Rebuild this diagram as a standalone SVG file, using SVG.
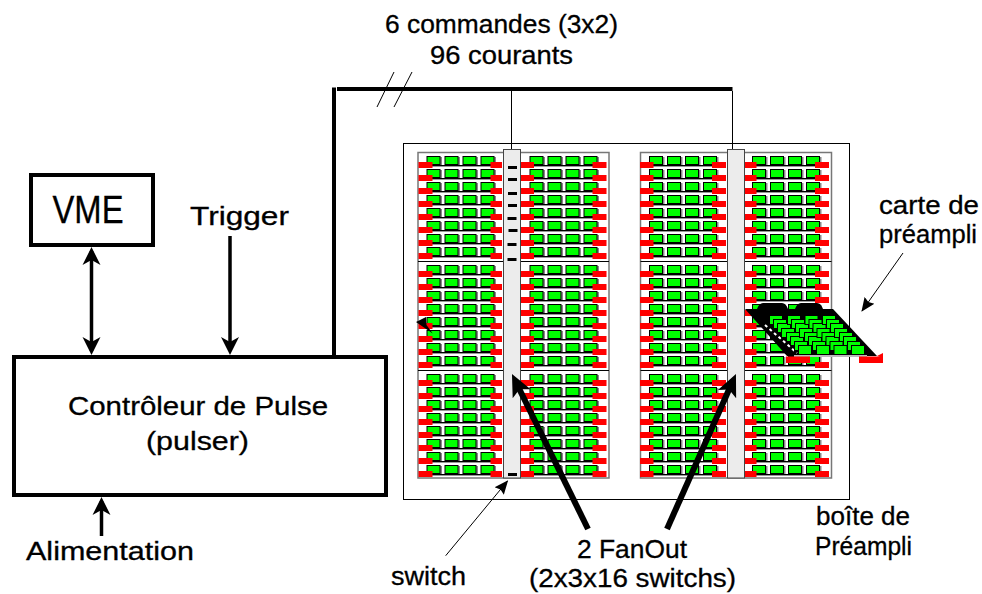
<svg xmlns="http://www.w3.org/2000/svg" width="982" height="594" viewBox="0 0 982 594">
<style>
text{font-family:"Liberation Sans","DejaVu Sans",sans-serif;font-size:25px;fill:#000;stroke:#000;stroke-width:.3}
.sh{fill:#8a8a8a}
.c{fill:#00ff00;stroke:#000;stroke-width:1}
.r{fill:#ff0000}
.b1{stroke:#000;stroke-width:1;fill:none}
.b2{stroke:#999;stroke-width:1.5;fill:none}
.sw{fill:#000}
.fan{fill:#ececec;stroke:#444;stroke-width:1}
.pan{fill:#fff;stroke:#777;stroke-width:1.5}
.box{fill:#fff;stroke:#000;stroke-width:4}
.thick{stroke:#000;stroke-width:4;fill:none}
.thin{stroke:#000;stroke-width:1;fill:none}
.arr{stroke:#000;stroke-width:3.5;fill:none}
.fat{stroke:#000;stroke-width:6;fill:none}
</style>
<defs>
<marker id="h" markerUnits="userSpaceOnUse" viewBox="0 0 20 20" markerWidth="20" markerHeight="20" refX="14" refY="10" orient="auto-start-reverse"><path d="M0,1L18,10L0,19L5,10Z" fill="#000"/></marker>
<marker id="hf" markerUnits="userSpaceOnUse" viewBox="0 0 26 26" markerWidth="26" markerHeight="26" refX="14" refY="13" orient="auto"><path d="M0,3L22,13L0,23L5,13Z" fill="#000"/></marker>
<marker id="ht" markerUnits="userSpaceOnUse" viewBox="0 0 16 14" markerWidth="16" markerHeight="14" refX="13" refY="7" orient="auto"><path d="M0,1L14,7L0,13L2,7Z" fill="#000"/></marker>
<g id="cards">
<rect class="sh" x="1" y="1" width="14.5" height="9"/><rect class="sh" x="19" y="1" width="14.5" height="9"/><rect class="sh" x="37" y="1" width="14.5" height="9"/><rect class="sh" x="55" y="1" width="14.5" height="9"/>
<rect class="c" x="0.5" y="0.5" width="13" height="8"/><rect class="c" x="18.5" y="0.5" width="13" height="8"/><rect class="c" x="36.5" y="0.5" width="13" height="8"/><rect class="c" x="54.5" y="0.5" width="13" height="8"/>
<path class="b2" d="M-5,10.2H71"/><path class="b1" d="M-5,9.5H71"/>
</g>
<g id="rowA"><use href="#cards"/><rect class="r" x="-8" y="6" width="14" height="6"/><rect class="r" x="64" y="6" width="11.5" height="6"/></g>
<g id="rowB"><use href="#cards"/><rect class="r" x="-9" y="6" width="13.5" height="6"/><rect class="r" x="63" y="6" width="14" height="6"/></g>
<g id="blockA"><use href="#rowA"/><use href="#rowA" y="13"/><use href="#rowA" y="26"/><use href="#rowA" y="39"/><use href="#rowA" y="52"/><use href="#rowA" y="65"/><use href="#rowA" y="78"/><use href="#rowA" y="91"/></g>
<g id="blockB"><use href="#rowB"/><use href="#rowB" y="13"/><use href="#rowB" y="26"/><use href="#rowB" y="39"/><use href="#rowB" y="52"/><use href="#rowB" y="65"/><use href="#rowB" y="78"/><use href="#rowB" y="91"/></g>
<g id="colA"><use href="#blockA"/><use href="#blockA" y="109"/><use href="#blockA" y="218"/></g>
<g id="colB"><use href="#blockB"/><use href="#blockB" y="109"/><use href="#blockB" y="218"/></g>
<rect id="sw" class="sw" width="9" height="3"/>
<g id="tc"><rect class="c" x="0.5" y="0.5" width="13" height="9"/></g>
<g id="tcol"><use href="#tc" x="-29" y="-30"/><use href="#tc" x="-25" y="-26"/><use href="#tc" x="-21" y="-22"/><use href="#tc" x="-17" y="-17"/><use href="#tc" x="-12" y="-13"/><use href="#tc" x="-8" y="-9"/><use href="#tc" x="-4" y="-4"/><use href="#tc"/></g>
</defs>

<rect width="982" height="594" fill="#fff"/>

<g id="boite">
<rect x="403.5" y="143.5" width="446" height="356" fill="#fff" stroke="#000" stroke-width="1"/>
<g id="panneau1">
<rect class="pan" x="418" y="152.5" width="191" height="325.5"/>
<path class="b1" d="M418,261.5H609M418,370.5H609"/>
<use href="#colA" x="426.5" y="156"/>
<use href="#colB" x="529.5" y="156"/>
</g>
<g id="panneau2">
<rect class="pan" x="640.5" y="152.5" width="191" height="325.5"/>
<path class="b1" d="M640.5,261.5H831.5M640.5,370.5H831.5"/>
<use href="#colB" x="649" y="156"/>
<use href="#colB" x="752" y="156"/>
</g>
</g>

<g id="fanout1">
<rect class="fan" x="503.5" y="149.5" width="17" height="328.5"/>
<use href="#sw" x="508" y="166"/><use href="#sw" x="508" y="178"/><use href="#sw" x="508" y="192"/><use href="#sw" x="508" y="204"/><use href="#sw" x="507.5" y="217"/><use href="#sw" x="508.5" y="229"/><use href="#sw" x="507.5" y="243"/><use href="#sw" x="507.5" y="258"/><use href="#sw" x="508" y="473"/>
</g>
<g id="fanout2">
<rect class="fan" x="727.5" y="149.5" width="17" height="328.5"/>
</g>

<g id="carte">
<path d="M757,309Q759,303 763,303H782Q786,303 788,309ZM795,309Q797,303 801,303H817Q821,303 823,309Z" fill="#000"/>
<polygon points="745,309 833,309 877,356 787,356" fill="#000"/>
<path d="M765,325L797,353" stroke="#fff" stroke-width="2" stroke-dasharray="3 3" fill="none"/>
<use href="#tcol" x="798" y="345"/><use href="#tcol" x="816" y="345"/><use href="#tcol" x="833.5" y="345"/><use href="#tcol" x="851" y="345"/>
<rect x="794" y="355" width="73" height="2" fill="#bbb"/>
<rect class="r" x="786" y="356.5" width="24" height="6.5"/>
<rect class="r" x="859" y="356.5" width="24" height="6.5"/>
<polygon class="r" points="877,356 883,353 883,358"/>
</g>
<polygon id="fleche-carte" points="416,322 426,317 426.5,325 432.7,333.5 424,327.5" fill="#000"/>

<g id="vme"><rect class="box" x="31" y="175" width="122" height="70"/>
<text x="52.5" y="223" style="font-size:38px" textLength="71" lengthAdjust="spacingAndGlyphs">VME</text></g>
<g id="pulser"><rect class="box" x="14" y="357" width="372" height="138"/>
<text x="68" y="415" textLength="260" lengthAdjust="spacingAndGlyphs">Contrôleur de Pulse</text>
<text x="146" y="450" textLength="103" lengthAdjust="spacingAndGlyphs">(pulser)</text></g>

<g id="connectors">
<path class="arr" d="M91.5,251V351" marker-start="url(#h)" marker-end="url(#h)"/>
<path class="arr" d="M230,236V351" marker-end="url(#h)"/>
<path class="arr" d="M101.5,536V501" marker-end="url(#h)"/>
<path class="thick" d="M334,355V87.5"/>
<path class="thick" d="M337,89H732.5"/>
<path class="thin" d="M377,107L394,72M394,107L412,72"/>
<path class="thin" d="M511.5,91V149M732.5,91V149"/>
<path class="fat" d="M588,529L515.5,381.2" marker-end="url(#hf)"/>
<path class="fat" d="M667,529L732.7,381.3" marker-end="url(#hf)"/>
<path class="thin" d="M445.7,555.7L507.5,481" marker-end="url(#ht)"/>
<path class="thin" d="M903,253L862,311" marker-end="url(#ht)"/>
</g>

<g id="labels">
<text x="190" y="225" textLength="99" lengthAdjust="spacingAndGlyphs">Trigger</text>
<text x="26" y="560" textLength="168" lengthAdjust="spacingAndGlyphs">Alimentation</text>
<text x="385" y="33" textLength="233" lengthAdjust="spacingAndGlyphs">6 commandes (3x2)</text>
<text x="430" y="64" textLength="143" lengthAdjust="spacingAndGlyphs">96 courants</text>
<text x="879" y="214" textLength="100" lengthAdjust="spacingAndGlyphs">carte de</text>
<text x="879" y="243" textLength="98" lengthAdjust="spacingAndGlyphs">préampli</text>
<text x="816" y="525" textLength="94" lengthAdjust="spacingAndGlyphs">boîte de</text>
<text x="815" y="555" textLength="97" lengthAdjust="spacingAndGlyphs">Préampli</text>
<text x="391" y="585" textLength="75" lengthAdjust="spacingAndGlyphs">switch</text>
<text x="577" y="558" textLength="110" lengthAdjust="spacingAndGlyphs">2 FanOut</text>
<text x="529" y="587" textLength="207" lengthAdjust="spacingAndGlyphs">(2x3x16 switchs)</text>
</g>
</svg>
